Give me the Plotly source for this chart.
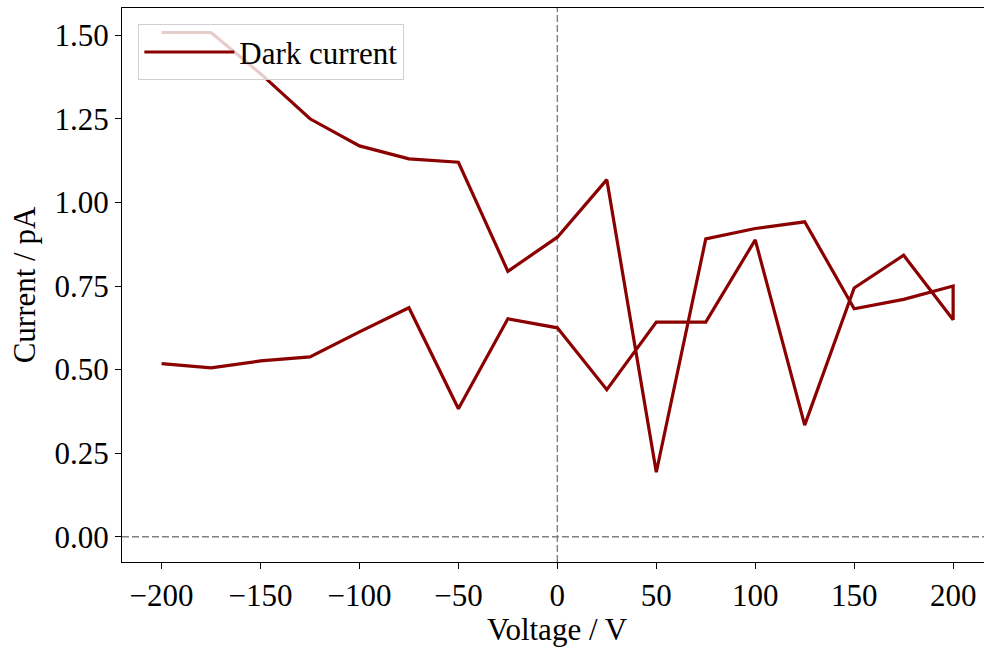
import plotly.graph_objects as go

# Sweep: -200 -> 200, then 200 -> -200
voltage = [-200, -175, -150, -125, -100, -75, -50, -25, 0, 25, 50, 75, 100, 125, 150, 175, 200,
           200, 175, 150, 125, 100, 75, 50, 25, 0, -25, -50, -75, -100, -125, -150, -175, -200]
current = [0.518, 0.505, 0.526, 0.538, 0.613, 0.685, 0.383, 0.652, 0.625, 0.440, 0.642, 0.642,
           0.888, 0.334, 0.744, 0.842, 0.649,
           0.750, 0.710, 0.682, 0.942, 0.922, 0.891, 0.193, 1.068, 0.896, 0.794, 1.120, 1.130,
           1.169, 1.250, 1.385, 1.508, 1.508]
x_ticks = [-200, -150, -100, -50, 0, 50, 100, 150, 200]
y_ticks = [0.0, 0.25, 0.5, 0.75, 1.0, 1.25, 1.5]
y_ticklabels = ["0.00", "0.25", "0.50", "0.75", "1.00", "1.25", "1.50"]

FONT = "Liberation Serif"
FS = 31

fig = go.Figure()
fig.add_trace(go.Scatter(
    x=voltage, y=current, mode="lines", name="Dark current",
    line=dict(color="#8b0000", width=3.2),
))

fig.add_shape(type="line", xref="x", yref="paper", x0=0, x1=0, y0=0, y1=1,
              line=dict(color="#808080", width=1.4, dash="7px,3px"), layer="below")
fig.add_shape(type="line", xref="paper", yref="y", x0=0, x1=1, y0=0, y1=0,
              line=dict(color="#808080", width=1.4, dash="7px,3px"), layer="below")

fig.add_annotation(text="Voltage / V", x=0, xref="x", y=-0.122, yref="paper",
                   showarrow=False, xanchor="center", yanchor="middle",
                   font=dict(family=FONT, size=FS, color="black"))

fig.update_layout(
    width=984, height=648,
    margin=dict(l=122, r=0, t=8, b=86),
    paper_bgcolor="white", plot_bgcolor="white",
    font=dict(family=FONT, size=FS, color="black"),
    showlegend=True,
    legend=dict(x=0.0186, y=0.971, xanchor="left", yanchor="top",
                bgcolor="rgba(255,255,255,0.8)", bordercolor="#d0d0d0", borderwidth=1.3,
                itemwidth=90,
                font=dict(family=FONT, size=FS, color="black")),
    xaxis=dict(range=[-220, 215.6], tickmode="array", tickvals=x_ticks,
               showgrid=False, zeroline=False, ticks="outside", ticklen=6, tickwidth=1.3,
               tickcolor="black", showline=True, linecolor="black", linewidth=1.3,
               mirror=True, tickfont=dict(family=FONT, size=FS)),
    yaxis=dict(title=dict(text="Current / pA", font=dict(family=FONT, size=FS), standoff=9),
               range=[-0.0753, 1.5813], tickmode="array", tickvals=y_ticks,
               ticktext=y_ticklabels, showgrid=False, zeroline=False, ticks="outside",
               ticklen=6, tickwidth=1.3, tickcolor="black", showline=True,
               linecolor="black", linewidth=1.3, mirror=False,
               tickfont=dict(family=FONT, size=FS)),
)

fig.write_html("out.html")
